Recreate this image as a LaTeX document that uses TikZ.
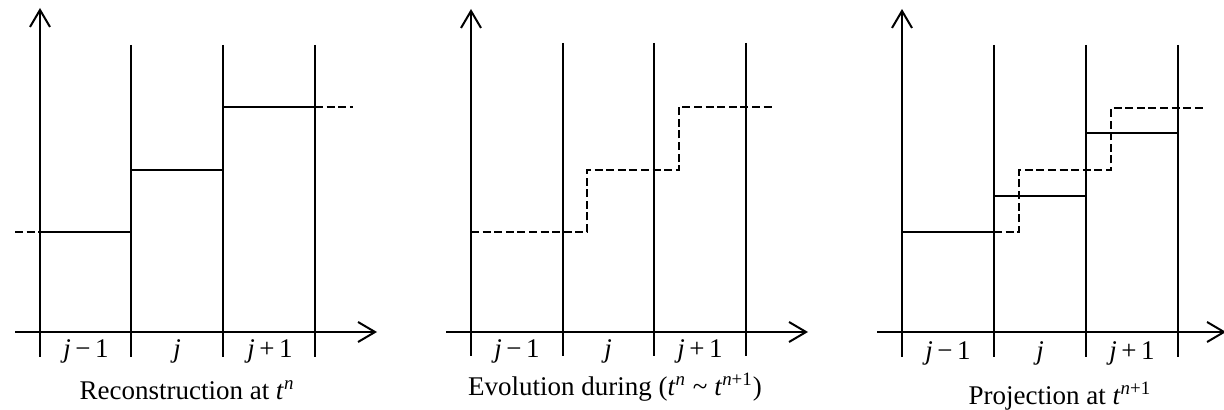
\documentclass[tikz,border=0pt]{standalone}
\usepackage{fontspec}
\setmainfont{Liberation Serif}
\usetikzlibrary{arrows.meta}
\begin{document}
\begin{tikzpicture}[x=0.5pt,y=-0.5pt,
  every node/.style={font=\fontsize{13.5}{16}\selectfont, inner sep=0pt},
  ln/.style={line width=1pt},
  dsh/.style={line width=1pt, dash pattern=on 4pt off 1.8pt},
  axis/.style={line width=1pt, -{Straight Barb[length=8.5pt,width=10pt,line width=1pt]}},
  lab/.style={anchor=base}]
\useasboundingbox (0,0) rectangle (1224,410);
% ---------- Panel 1 ----------
\draw[axis] (40,357) -- (40,8);
\draw[axis] (15,332) -- (377,332);
\foreach \x in {131,223,315} \draw[ln] (\x,45) -- (\x,357);
\draw[ln] (40,232) -- (131,232);
\draw[ln] (131,170) -- (223,170);
\draw[ln] (223,107) -- (315,107);
\draw[dsh] (15,232) -- (40,232);
\draw[dsh] (315,107) -- (353,107);
\node[lab] (a1) at (86,358) {\textit{j}\,−\,1};
\node[lab] (a2) at (177,358) {\textit{j}};
\node[lab] (a3) at (270,358) {\textit{j}\,+\,1};
\node[lab] (c1) at (187,400) {Reconstruction at \textit{t}\textsuperscript{\textit{n}}};
% ---------- Panel 2 ----------
\draw[axis] (471,356) -- (471,9);
\draw[axis] (446,332) -- (808,332);
\foreach \x in {563,654,746} \draw[ln] (\x,43) -- (\x,356);
\draw[dsh] (471,232) -- (587,232) -- (587,170) -- (679,170) -- (679,107) -- (772,107);
\node[lab] (b1) at (517,358) {\textit{j}\,−\,1};
\node[lab] (b2) at (608,358) {\textit{j}};
\node[lab] (b3) at (700,358) {\textit{j}\,+\,1};
\node[lab] (c2) at (615,396) {Evolution during (\textit{t}\textsuperscript{\textit{n}} \textasciitilde{} \textit{t}\textsuperscript{\textit{n}+1})};
% ---------- Panel 3 ----------
\draw[axis] (902,357) -- (902,9);
\draw[axis] (877,332) -- (1226,332);
\foreach \x in {994,1086,1178} \draw[ln] (\x,45) -- (\x,357);
\draw[ln] (902,232) -- (994,232);
\draw[ln] (994,196) -- (1086,196);
\draw[ln] (1086,133) -- (1178,133);
\draw[dsh] (994,232) -- (1019,232) -- (1019,170) -- (1111,170) -- (1111,108) -- (1203,108);
\node[lab] (d1) at (948,360) {\textit{j}\,−\,1};
\node[lab] (d2) at (1040,360) {\textit{j}};
\node[lab] (d3) at (1132,360) {\textit{j}\,+\,1};
\node[lab] (c3) at (1060,405) {Projection at \textit{t}\textsuperscript{\textit{n}+1}};
\end{tikzpicture}
\end{document}
